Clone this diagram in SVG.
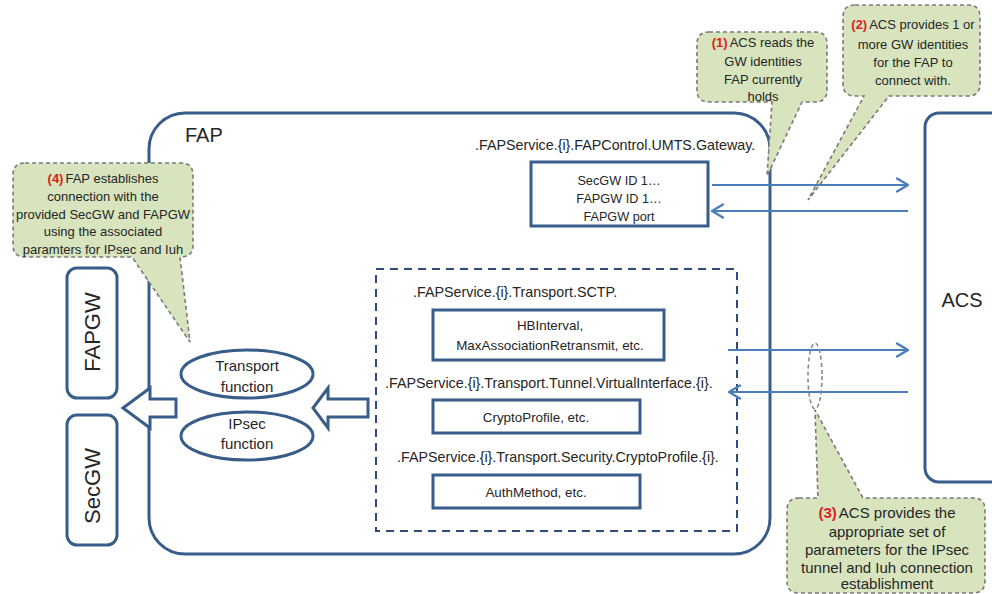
<svg xmlns="http://www.w3.org/2000/svg" width="992" height="594" viewBox="0 0 992 594">
  <defs>
    <marker id="open-head" markerUnits="userSpaceOnUse" markerWidth="16" markerHeight="16" refX="12" refY="7" orient="auto" overflow="visible">
      <path d="M1,0.5 L12,7 L1,13.5" fill="none" stroke="#4a7ebb" stroke-width="2.4" stroke-linecap="round" stroke-linejoin="round"/>
    </marker>
    <style>
      .frame { fill: #ffffff; stroke: #385d8a; stroke-width: 3; }
      .box { fill: #ffffff; stroke: #385d8a; stroke-width: 3; }
      .dash-box { fill: none; stroke: #2c4a7c; stroke-width: 2; stroke-dasharray: 8 6; }
      .oval { fill: #ffffff; stroke: #385d8a; stroke-width: 3; }
      .block { fill: #ffffff; stroke: #385d8a; stroke-width: 3; stroke-linejoin: miter; }
      .link { fill: none; stroke: #4a7ebb; stroke-width: 2.2; }
      .callout { fill: #d7e4bd; stroke: #7a7a7a; stroke-width: 1.6; stroke-dasharray: 4 3; }
      .group-ring { fill: none; stroke: #8a8a8a; stroke-width: 1.6; stroke-dasharray: 4 3; }
      text { font-family: "Liberation Sans", Arial, sans-serif; fill: #262626; }
      .title { font-size: 20px; }
      .gw { font-size: 22px; }
      .path-label { font-size: 14.3px; }
      .field { font-size: 12.7px; text-anchor: middle; }
      .field2 { font-size: 13.4px; text-anchor: middle; }
      .fn { font-size: 15px; text-anchor: middle; }
      .note { font-size: 13px; text-anchor: middle; }
      .note-lg { font-size: 15px; text-anchor: middle; }
      .num { fill: #e0201b; font-weight: bold; }
    </style>
  </defs>

  <!-- FAP container -->
  <g id="fap">
    <rect class="frame" x="149" y="113" width="621" height="441" rx="36"/>
    <text class="title" x="185" y="142">FAP</text>
  </g>

  <!-- ACS server -->
  <g id="acs">
    <rect class="frame" x="925" y="113" width="100" height="369" rx="14"/>
    <text class="title" x="962" y="307" text-anchor="middle">ACS</text>
  </g>

  <!-- Gateway parameter object -->
  <g id="gateway-object">
    <text class="path-label" x="475" y="150">.FAPService.{i}.FAPControl.UMTS.Gateway.</text>
    <rect class="box" x="531" y="162" width="177" height="64"/>
    <text class="field" x="619" y="185">SecGW ID 1…</text>
    <text class="field" x="619" y="203">FAPGW ID 1…</text>
    <text class="field" x="619" y="221">FAPGW port</text>
  </g>

  <!-- Transport parameter objects -->
  <g id="transport-objects">
    <rect class="dash-box" x="376" y="269" width="361" height="262"/>
    <text class="path-label" x="413" y="297">.FAPService.{i}.Transport.SCTP.</text>
    <rect class="box" x="433" y="310" width="231" height="50"/>
    <text class="field2" x="550" y="330">HBInterval,</text>
    <text class="field2" x="550" y="350">MaxAssociationRetransmit, etc.</text>
    <text class="path-label" x="385" y="388">.FAPService.{i}.Transport.Tunnel.VirtualInterface.{i}.</text>
    <rect class="box" x="433" y="400" width="207" height="33"/>
    <text class="field2" x="536" y="422">CryptoProfile, etc.</text>
    <text class="path-label" x="397" y="462">.FAPService.{i}.Transport.Security.CryptoProfile.{i}.</text>
    <rect class="box" x="433" y="475" width="207" height="33"/>
    <text class="field2" x="536" y="497">AuthMethod, etc.</text>
  </g>

  <!-- FAP functions -->
  <g id="transport-function">
    <ellipse class="oval" cx="247" cy="374" rx="66" ry="24"/>
    <text class="fn" x="247" y="371">Transport</text>
    <text class="fn" x="247" y="392">function</text>
  </g>
  <g id="ipsec-function">
    <ellipse class="oval" cx="247" cy="436" rx="66" ry="24"/>
    <text class="fn" x="247" y="429">IPsec</text>
    <text class="fn" x="247" y="449">function</text>
  </g>

  <!-- Gateways -->
  <g id="fapgw">
    <rect class="box" x="67" y="268" width="50" height="130" rx="10"/>
    <text class="gw" transform="translate(100,332) rotate(-90)" text-anchor="middle">FAPGW</text>
  </g>
  <g id="secgw">
    <rect class="box" x="67" y="415" width="50" height="130" rx="10"/>
    <text class="gw" transform="translate(100,486) rotate(-90)" text-anchor="middle">SecGW</text>
  </g>

  <!-- Step callouts -->
  <g id="callout-1">
    <path class="callout" d="M709,32 H815 Q827,32 827,44 V90 Q827,102 815,102 H802 L767,176 L772,102 H709 Q697,102 697,90 V44 Q697,32 709,32 Z"/>
    <text class="note" x="763" y="47"><tspan class="num">(1)</tspan><tspan dx="2">ACS reads the</tspan></text>
    <text class="note" x="763" y="66">GW identities</text>
    <text class="note" x="763" y="84">FAP currently</text>
    <text class="note" x="763" y="101">holds</text>
  </g>
  <g id="callout-2">
    <path class="callout" d="M855,5 H968 Q980,5 980,17 V84 Q980,96 968,96 H889 L808,200 L864,96 H855 Q843,96 843,84 V17 Q843,5 855,5 Z"/>
    <text class="note" x="913" y="29"><tspan class="num">(2)</tspan><tspan dx="2">ACS provides 1 or</tspan></text>
    <text class="note" x="913" y="49">more GW identities</text>
    <text class="note" x="913" y="67">for the FAP to</text>
    <text class="note" x="913" y="85">connect with.</text>
  </g>
  <g id="callout-3">
    <path class="callout" d="M799,498 H818 L815,410 L863,498 H973 Q985,498 985,510 V581 Q985,593 973,593 H799 Q787,593 787,581 V510 Q787,498 799,498 Z"/>
    <text class="note-lg" x="887" y="518"><tspan class="num">(3)</tspan><tspan dx="2">ACS provides the</tspan></text>
    <text class="note-lg" x="887" y="537">appropriate set of</text>
    <text class="note-lg" x="887" y="555">parameters for the IPsec</text>
    <text class="note-lg" x="887" y="573">tunnel and Iuh connection</text>
    <text class="note-lg" x="887" y="589">establishment</text>
  </g>
  <g id="callout-4">
    <path class="callout" d="M25,163 H181 Q193,163 193,175 V245 Q193,257 181,257 H180 L190,342 L132,257 H25 Q13,257 13,245 V175 Q13,163 25,163 Z"/>
    <text class="note" x="103" y="183"><tspan class="num">(4)</tspan><tspan dx="2">FAP establishes</tspan></text>
    <text class="note" x="103" y="201">connection with the</text>
    <text class="note" x="103" y="219">provided SecGW and FAPGW</text>
    <text class="note" x="103" y="236">using the associated</text>
    <text class="note" x="103" y="254">paramters for IPsec and Iuh</text>
  </g>

  <!-- Connectors -->
  <g id="connectors">
    <line class="link" x1="712" y1="185" x2="908" y2="185" marker-end="url(#open-head)"/>
    <line class="link" x1="908" y1="211" x2="712" y2="211" marker-end="url(#open-head)"/>
    <line class="link" x1="728" y1="350" x2="908" y2="350" marker-end="url(#open-head)"/>
    <line class="link" x1="908" y1="392" x2="729" y2="392" marker-end="url(#open-head)"/>
    <ellipse class="group-ring" cx="815" cy="376" rx="7" ry="33"/>
    <path class="block" d="M313,408 L328,388 V399 H368 V417 H328 V428 Z"/>
    <path class="block" d="M123,408 L150,388 V399 H176 V417 H150 V428 Z"/>
  </g>
</svg>
